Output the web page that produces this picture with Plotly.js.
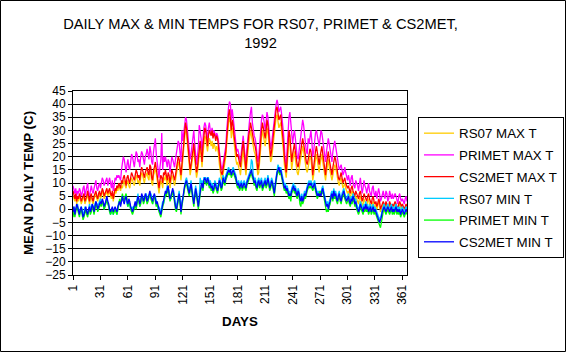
<!DOCTYPE html>
<html><head><meta charset="utf-8">
<script src="https://cdn.plot.ly/plotly-3.0.1.min.js"></script>
<style>html,body{margin:0;padding:0;background:#fff}#chart{width:566px;height:352px}</style>
</head><body><div id="chart"></div>
<script>
var seriesNames = ["RS07 MAX T","PRIMET MAX T","CS2MET MAX T","RS07 MIN T","PRIMET MIN T","CS2MET MIN T"];
var seriesColors = ["#FFCC00","#FF00FF","#FF0000","#00CCFF","#00FF00","#0000FF"];
var tickDays = [1,31,61,91,121,151,181,211,241,271,301,331,361];
var tickLabels = ["1","31","61","91","121","151","181","211","241","271","301","331","361"];

var rs07Max = [
5,4,3,5,2,4,3,5,4,2, 3,4,5,2,3,4,6,3,2,4, 5,3,2,4,5,6,4,3,5,6, 4,5,7,6,4,5,6,7,5,6,
7,5,4,6,3,5,7,6,8,7, 9,8,7,9,8,10,11,9,8,10, 11,9,8,10,12,11,10,9,11,13, 12,10,11,9,12,14,13,11,10,12,
13,14,12,11,15,14,10,9,13,14, 16,13,10,7,6,9,11,10,8,12, 11,13,10,9,12,11,8,10,13,12, 10,9,11,14,16,18,17,13,11,15,
20,23,26,31,29,25,20,16,13,15, 18,21,23,19,15,12,14,17,22,24, 20,16,21,25,28,27,24,22,25,27, 26,24,26,23,25,24,22,24,23,21,
17,14,12,11,13,16,18,20,25,30, 33,35,33,27,31,29,25,22,19,17, 18,16,15,13,17,21,23,19,14,13, 17,22,25,27,30,28,25,24,22,21,
19,15,13,14,19,25,27,30,28,26, 24,27,31,29,25,21,18,19,22,27, 30,33,35,36,34,31,32,33,29,26, 22,17,13,12,16,23,27,25,19,15,
18,21,22,19,16,14,13,15,17,19, 21,24,22,19,16,15,14,17,18,20, 19,16,11,13,17,19,21,18,16,14, 17,19,21,18,15,13,11,14,17,19,
16,14,12,11,13,15,17,16,13,12, 10,9,11,12,10,8,9,10,8,7, 6,7,5,4,6,7,5,4,3,5, 4,3,2,4,5,3,1,2,4,3,
2,1,3,4,2,1,0,2,3,1, 1,2,0,1,3,2,-1,0,1,2, 1,0,2,1,-1,0,2,1,0,1, 0,1,2,1,0,-1,1,2,1,0,
1,0,-1,0,1,0];

var primetMax = [
9,7,6,8,5,7,6,8,7,5, 6,8,9,5,7,8,10,6,5,7, 9,7,6,8,10,11,8,7,9,10, 8,10,12,11,9,10,11,12,9,11,
12,10,8,11,7,9,12,11,13,12, 13,12,11,15,18,20,19,16,14,17, 19,16,15,18,21,20,18,16,19,22, 21,18,19,16,20,22,21,19,17,20,
21,23,20,19,24,22,18,17,22,26, 27,21,17,13,12,16,19,29,15,20, 18,20,17,16,19,18,14,17,20,19, 17,16,19,22,24,26,25,21,18,30,
26,29,32,35,34,30,26,22,19,21, 24,27,30,25,21,17,20,24,32,30, 27,22,28,31,33,32,29,27,31,33, 30,29,31,29,30,29,27,29,28,26,
22,18,16,15,17,20,22,24,30,36, 39,41,40,34,38,35,31,28,24,22, 23,21,20,18,22,27,28,24,19,17, 23,28,31,34,37,39,33,30,28,27,
25,21,18,20,25,31,34,36,35,33, 30,33,37,35,31,27,23,25,28,33, 36,38,40,41.6,40,37,38,39,36,33, 29,24,18,17,23,30,35,37,33,27,
25,28,30,27,23,20,19,22,26,29, 31,34,32,28,24,22,21,27,25,28, 30,26,20,22,27,29,30,28,26,24, 27,30,29,26,24,20,18,22,26,27,
25,23,20,18,22,25,26,24,21,19, 17,15,16,17,15,13,14,16,14,12, 11,13,10,9,12,13,10,9,8,11, 10,9,7,10,12,9,6,8,11,9,
8,6,9,10,7,6,5,8,9,6, 5,7,4,6,8,6,3,4,6,7, 5,4,7,6,3,4,7,5,4,6, 4,5,6,5,3,2,5,6,4,3,
4,3,2,4,5,3];

var cs2metMax = [
7,5,4,6,3,5,4,6,5,3, 4,5,6,3,4,5,7,4,3,5, 6,4,3,5,6,7,5,4,6,7, 5,6,8,7,5,6,7,8,6,7,
8,6,5,7,4,6,8,7,9,8, 10,9,8,11,10,12,13,11,9,12, 13,11,10,12,14,13,12,11,13,15, 14,12,13,11,14,16,15,13,12,14,
15,16,14,13,17,16,12,11,15,16, 18,15,12,9,8,11,13,12,10,14, 13,15,12,11,14,13,10,12,15,14, 12,11,13,16,18,20,19,15,13,17,
22,25,28,33,31,27,22,18,15,17, 20,23,25,21,17,14,16,19,24,26, 22,18,24,28,31,30,27,24,28,30, 29,28,30,27,29,28,26,28,27,24,
20,16,14,13,15,18,20,22,27,33, 36,38,35,30,34,32,28,25,22,20, 21,19,18,16,20,24,26,22,17,15, 20,25,28,30,33,31,28,27,25,24,
22,18,15,17,22,28,30,33,31,29, 27,30,34,32,28,24,20,22,25,30, 33,36,38,39,37,34,35,36,32,29, 25,20,15,14,19,26,30,28,22,18,
21,24,25,22,19,17,16,18,20,22, 24,27,25,22,19,18,17,20,21,23, 22,19,13,16,20,22,24,21,19,17, 20,22,24,21,18,15,13,17,20,22,
19,17,15,13,16,18,20,19,16,14, 12,11,13,14,12,10,11,12,10,9, 8,9,7,6,8,9,7,6,5,7, 6,5,4,6,7,5,3,4,6,5,
4,3,5,6,4,3,2,4,5,3, 2,3,1,2,4,3,0,1,2,3, 2,1,3,2,0,1,3,2,1,2, 1,2,3,2,1,0,2,3,2,1,
2,1,0,1,2,1];

var rs07Min = [
0,1,-1,0,1,2,0,-1,0,1, 0,-2,-1,1,0,-1,-1,0,2,0, 1,2,1,0,2,3,2,1,2,3, 4,3,3,2,0,1,3,4,3,1,
-1,-2,-1,0,-2,0,0,-1,-2,0, 3,2,2,3,4,4,3,5,4,2, 1,3,2,0,1,0,1,1,2,2, 4,6,3,1,4,5,4,4,5,5,
6,4,3,5,6,6,5,2,4,5, 5,3,2,0,1,0,-1,1,3,2, 4,6,7,9,8,7,5,4,6,7, 7,4,2,1,3,5,7,4,0,3,
4,6,10,11,12,10,8,7,9,11, 8,5,3,6,9,7,4,2,5,12, 10,11,9,12,12,12,11,12,12,10, 11,9,10,8,9,11,10,9,8,10,
12,11,9,10,13,12,11,13,14,15, 16,15,14,14,15,16,15,14,13,11, 10,11,9,10,11,9,10,11,10,9, 11,12,13,14,15,19,18,13,11,12,
10,9,11,12,10,11,12,9,10,11, 12,10,11,13,11,9,10,12,11,8, 7,10,13,15,17,16,15,16,14,12, 11,9,10,8,9,7,6,7,6,8,
9,10,8,9,7,6,8,7,5,4, 6,4,5,7,6,8,9,10,11,10, 11,10,9,10,11,9,7,6,7,6, 7,6,8,9,7,5,4,2,3,1,
3,4,6,7,5,8,6,7,5,4, 6,7,5,4,6,7,8,6,5,4, 5,6,4,3,5,4,6,5,3,4, 2,1,0,1,3,2,1,0,2,1,
3,1,2,0,1,2,0,1,2,0, 1,0,-1,-2,-3,-4,-3,-2,0,1, 2,1,0,1,2,1,0,1,2,0, 1,0,1,2,0,1,0,1,-1,0,
1,0,-1,0,1,0];

var primetMin = [
-3,0,-3,-1,1,0,-2,-3,-1,0, -2,-4,-3,-1,0,-2,-3,-1,0,-2, -1,1,0,-2,0,2,1,-1,0,1, 2,1,3,2,0,1,3,4,2,1,
-1,-2,-1,0,-2,-1,0,-1,-2,0, 3,4,2,5,6,4,3,5,6,4, 1,3,2,0,-1,-2,-1,1,2,0, 2,4,3,1,2,5,4,2,3,5,
4,2,3,5,6,4,3,2,4,5, 3,1,2,0,-1,-2,-3,-1,1,2, 4,6,5,7,8,5,3,4,6,7, 5,2,0,-1,1,3,5,2,-2,1,
4,6,8,9,10,8,6,5,7,9, 6,3,1,4,7,5,2,0,3,6, 8,9,7,10,11,10,9,11,10,8, 9,7,8,6,7,9,8,7,6,8,
10,9,7,8,11,10,9,11,12,13, 14,13,14,12,13,14,13,12,11,9, 8,9,7,8,9,7,8,9,8,7, 9,10,11,12,13,14,12,11,9,10,
8,7,9,10,8,9,10,7,8,9, 10,8,9,11,9,7,8,10,9,6, 5,8,11,13,14,15,13,14,12,10, 9,7,8,6,7,5,4,5,3,6,
7,8,6,7,5,4,6,5,2,1, 4,2,3,5,4,6,7,8,9,8, 9,8,7,8,9,7,5,4,5,6, 7,6,6,7,5,3,2,-1,0,-1,
1,2,4,5,3,6,4,5,3,2, 4,5,3,2,4,5,6,4,3,2, 3,4,2,1,3,2,4,3,1,2, 0,-1,-2,-1,1,0,-1,-2,0,-1,
1,-1,0,-2,-1,0,-2,-1,0,-2, -1,-2,-3,-4,-5,-6,-7,-5,-2,-1, 0,-1,-2,-1,0,-1,-2,-1,0,-2, -1,-2,-1,0,-2,-1,-2,-1,-3,-2,
-1,-2,-3,-2,-1,-2];

var cs2metMin = [
-1,1,-2,0,2,1,-1,-2,0,1, -1,-3,-2,0,1,-1,-2,0,1,-1, 0,2,1,-1,1,3,2,0,1,2, 3,2,4,3,1,2,4,5,3,2,
0,-1,0,1,-1,0,1,0,-1,1, 2,3,1,4,5,3,2,4,5,3, 2,4,3,1,0,-1,0,2,3,1, 3,5,4,2,3,6,5,3,4,6,
5,3,4,6,7,5,4,3,5,6, 4,2,3,1,0,-1,-2,0,2,3, 5,7,6,8,9,6,4,5,7,8, 6,3,1,0,2,4,6,3,-1,2,
5,7,9,10,11,9,7,6,8,10, 7,4,2,5,8,6,3,1,4,7, 9,10,8,11,12,11,10,12,11,9, 10,8,9,7,8,10,9,8,7,9,
11,10,8,9,12,11,10,12,13,14, 15,14,15,13,14,15,14,13,12,10, 9,10,8,9,10,8,9,10,9,8, 10,11,12,13,14,15,13,12,10,11,
9,8,10,11,9,10,11,8,9,10, 11,9,10,12,10,8,9,11,10,7, 6,9,12,14,15,16,14,15,13,11, 10,8,9,7,8,6,5,6,5,7,
8,9,7,8,6,5,7,6,4,3, 5,3,4,6,5,7,8,9,10,9, 10,9,8,9,10,8,6,5,6,5, 6,5,7,8,6,4,3,1,2,0,
2,3,5,6,4,7,5,6,4,3, 5,6,4,3,5,6,7,5,4,3, 4,5,3,2,4,3,5,4,2,3, 1,0,-1,0,2,1,0,-1,1,0,
2,0,1,-1,0,1,-1,0,1,-1, 0,-1,-2,-3,-4,-5,-4,-3,-1,0, 1,0,-1,0,1,0,-1,0,1,-1, 0,-1,0,1,-1,0,-1,0,-2,-1,
0,-1,-2,-1,0,-1];

var seriesValues = [rs07Max, primetMax, cs2metMax, rs07Min, primetMin, cs2metMin];

var FONT = "'Liberation Sans', Arial, sans-serif";
var traces = seriesValues.map(function(vals, i){
  return {
    type: 'scatter', mode: 'lines',
    x0: 1, dx: 1, y: vals,
    name: seriesNames[i], legendgroup: 'g' + i,
    line: {color: seriesColors[i], width: 1.3},
    hoverinfo: 'skip'
  };
});

var W = 566, H = 352, ML = 73, MR = 159, MT = 91, MB = 77;
var pw = W - ML - MR, ph = H - MT - MB;

var layout = {
  width: W, height: H,
  margin: {l: ML, r: MR, t: MT, b: MB, pad: 0, autoexpand: false},
  paper_bgcolor: '#ffffff', plot_bgcolor: '#ffffff',
  font: {family: FONT, size: 12, color: '#000000'},
  title: {
    text: 'DAILY MAX &amp; MIN TEMPS FOR RS07, PRIMET &amp; CS2MET,<br>1992',
    font: {family: FONT, size: 14.67, color: '#000000'},
    x: 260.5 / W, xref: 'container', xanchor: 'center',
    y: 1 - 29/H, yref: 'container', yanchor: 'top'
  },
  xaxis: {
    range: [1, 366], tickmode: 'array', tickvals: tickDays, ticktext: tickLabels,
    tickangle: -90, ticks: 'outside', ticklen: 4, tickcolor: '#000', tickwidth: 1,
    showgrid: false, zeroline: false, showline: true, linecolor: '#000', linewidth: 1, mirror: true,
    tickfont: {family: FONT, size: 12, color: '#000'},
    title: {text: 'DAYS', font: {family: FONT, size: 13.33, color: '#000', weight: 'bold'}, standoff: 12},
    automargin: false, fixedrange: true
  },
  yaxis: {
    range: [-25, 45], dtick: 5, tick0: 0, ticks: 'outside', ticklen: 4, tickcolor: '#000', tickwidth: 1,
    showgrid: true, gridcolor: '#000000', gridwidth: 1, zeroline: false,
    showline: true, linecolor: '#000', linewidth: 1, mirror: true,
    tickfont: {family: FONT, size: 12, color: '#000'},
    title: {text: 'MEAN DAILY TEMP (C)', font: {family: FONT, size: 13.33, color: '#000', weight: 'bold'}, standoff: 8},
    automargin: false, fixedrange: true
  },
  showlegend: true,
  legend: {
    x: (418 - ML) / pw, xanchor: 'left', y: (H - MB - 117) / ph, yanchor: 'top',
    bgcolor: '#ffffff', bordercolor: '#000000', borderwidth: 1,
    font: {family: FONT, size: 13.33, color: '#000'},
    traceorder: 'grouped', tracegroupgap: 1.4, itemwidth: 30
  },
  shapes: [{
    type: 'rect', xref: 'paper', yref: 'paper',
    x0: (0.5 - ML) / pw, x1: (W - 0.5 - ML) / pw,
    y0: -(MB - 0.5) / ph, y1: 1 + (MT - 0.5) / ph,
    line: {color: '#000000', width: 1}, fillcolor: 'rgba(0,0,0,0)'
  }]
};

Plotly.newPlot('chart', traces, layout, {displayModeBar: false, staticPlot: true});
</script>
</body></html>
